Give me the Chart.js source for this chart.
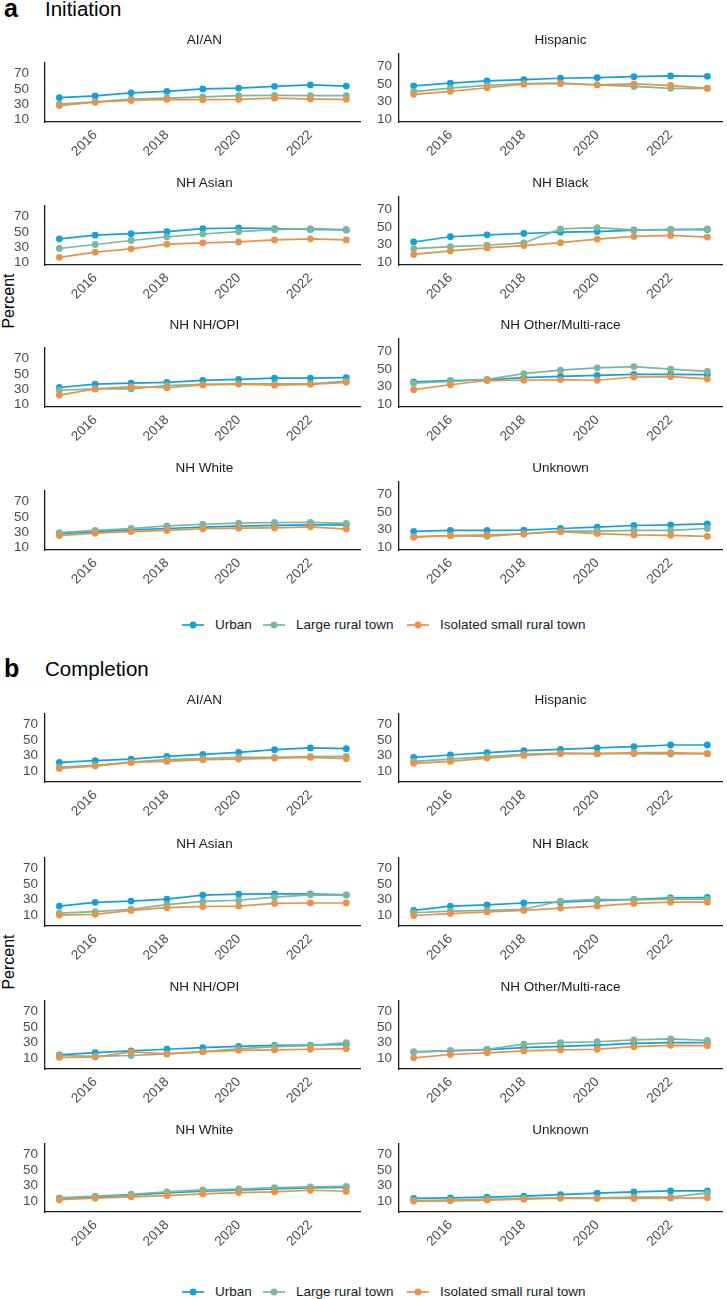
<!DOCTYPE html>
<html><head><meta charset="utf-8">
<script src="https://cdn.jsdelivr.net/npm/chart.js@4"></script>
<style>
html,body{margin:0;padding:0;background:#fff;}
body{width:727px;height:1299px;position:relative;overflow:hidden;font-family:"Liberation Sans",Arial,sans-serif;}
canvas{position:absolute;}
.ptitle{position:absolute;width:300px;margin-left:-150px;font-size:13.5px;color:#1a1a1a;text-align:center;line-height:16px;white-space:nowrap;}
.sec{position:absolute;white-space:nowrap;color:#000;}
.ylab{position:absolute;font-size:16px;color:#000;white-space:nowrap;transform:translate(-50%,-50%) rotate(-90deg);}
.leg{position:absolute;font-size:13.5px;color:#1a1a1a;white-space:nowrap;line-height:16px;}
.legicon{position:absolute;}
</style></head><body>
<script>
// ---------- data ----------
const years = [2015, 2016, 2017, 2018, 2019, 2020, 2021, 2022, 2023];
const xTicks = [2016, 2018, 2020, 2022];
const yTicks = [10, 30, 50, 70];
const groups = ["AI/AN", "Hispanic", "NH Asian", "NH Black", "NH NH/OPI", "NH Other/Multi-race", "NH White", "Unknown"];
const seriesNames = ["Urban", "Large rural town", "Isolated small rural town"];

// Initiation (%)
const init_AIAN_urban  = [38.7, 40.9, 45.0, 46.8, 50.1, 51.2, 53.4, 55.3, 53.8];
const init_AIAN_large  = [30.2, 33.2, 36.9, 38.0, 39.8, 41.3, 41.7, 41.3, 41.3];
const init_AIAN_small  = [28.4, 32.8, 35.0, 36.5, 36.1, 36.5, 38.0, 36.9, 36.5];
const init_Hisp_urban  = [47.9, 50.9, 53.4, 54.9, 56.4, 57.1, 58.2, 59.0, 58.6];
const init_Hisp_large  = [41.3, 45.3, 48.3, 50.5, 50.9, 49.0, 47.2, 45.0, 45.0];
const init_Hisp_small  = [38.3, 41.7, 45.7, 49.7, 50.5, 49.0, 50.1, 48.3, 45.0];
const init_Asian_urban = [41.1, 45.9, 47.8, 50.4, 54.4, 55.2, 54.4, 53.3, 52.6];
const init_Asian_large = [28.5, 33.7, 38.9, 43.7, 47.4, 50.4, 53.0, 54.4, 53.0];
const init_Asian_small = [17.0, 23.7, 28.1, 34.1, 35.9, 37.0, 39.6, 41.1, 39.6];
const init_Black_urban = [33.0, 38.9, 41.1, 42.6, 44.1, 44.8, 46.3, 47.0, 47.0];
const init_Black_large = [25.6, 27.8, 29.3, 31.9, 47.8, 49.3, 46.7, 47.0, 47.8];
const init_Black_small = [18.9, 23.0, 26.3, 28.9, 32.2, 36.3, 39.3, 40.4, 38.5];
const init_NHOPI_urban = [32.4, 36.9, 38.0, 39.1, 41.7, 43.1, 44.6, 44.6, 45.3];
const init_NHOPI_large = [28.8, 30.5, 30.5, 35.0, 36.5, 37.2, 37.2, 37.2, 40.6];
const init_NHOPI_small = [22.5, 30.6, 33.6, 32.1, 35.8, 36.9, 35.4, 36.5, 39.1];
const init_Other_urban = [35.4, 36.9, 37.6, 40.2, 41.7, 42.8, 43.9, 43.9, 43.5];
const init_Other_large = [33.9, 35.8, 38.3, 44.6, 48.6, 51.2, 52.7, 49.7, 47.2];
const init_Other_small = [26.6, 32.1, 36.9, 37.2, 38.0, 37.2, 40.9, 41.3, 38.7];
const init_White_urban = [28.4, 30.6, 33.2, 35.0, 36.9, 38.0, 39.1, 39.8, 39.8];
const init_White_large = [29.5, 32.5, 35.0, 38.3, 40.5, 42.0, 42.8, 43.1, 41.7];
const init_White_small = [25.8, 28.8, 31.0, 32.5, 34.7, 35.4, 35.8, 37.2, 34.3];
const init_Unk_urban   = [28.0, 29.1, 29.1, 29.5, 31.3, 32.8, 34.7, 35.4, 36.5];
const init_Unk_large   = [22.1, 23.2, 22.5, 25.5, 28.4, 28.4, 29.1, 29.1, 31.3];
const init_Unk_small   = [21.4, 23.2, 24.0, 25.1, 27.7, 25.5, 24.0, 23.6, 22.5];

// Completion (%)
const comp_AIAN_urban  = [21.1, 23.3, 25.4, 28.9, 31.4, 34.0, 37.4, 39.6, 38.7];
const comp_AIAN_large  = [15.1, 17.3, 21.6, 24.6, 25.9, 27.6, 27.6, 28.4, 28.9];
const comp_AIAN_small  = [13.4, 16.4, 21.1, 22.4, 24.6, 25.4, 26.7, 27.6, 25.9];
const comp_Hisp_urban  = [27.6, 30.6, 33.6, 36.1, 37.9, 39.6, 41.3, 43.4, 43.4];
const comp_Hisp_large  = [22.4, 25.4, 28.4, 31.4, 33.1, 32.3, 32.3, 31.9, 32.3];
const comp_Hisp_small  = [19.9, 22.4, 26.7, 30.1, 32.3, 32.3, 33.6, 33.6, 32.3];
const comp_Asian_urban = [21.6, 26.4, 28.0, 30.4, 35.6, 36.8, 37.2, 37.2, 36.0];
const comp_Asian_large = [12.5, 14.5, 17.5, 23.5, 27.5, 29.0, 33.0, 36.0, 35.5];
const comp_Asian_small = [10.0, 11.0, 16.0, 19.5, 21.0, 21.5, 25.0, 25.5, 25.5];
const comp_Black_urban = [16.0, 21.5, 23.0, 25.5, 26.5, 28.5, 30.0, 32.0, 32.5];
const comp_Black_large = [13.0, 15.0, 16.0, 17.5, 28.0, 30.0, 29.5, 30.5, 30.5];
const comp_Black_small = [9.5, 12.0, 14.0, 16.0, 19.0, 21.5, 25.0, 26.5, 26.5];
const comp_NHOPI_urban = [14.2, 17.1, 19.2, 21.3, 23.4, 25.1, 26.3, 26.7, 27.6];
const comp_NHOPI_large = [13.3, 12.1, 13.3, 15.4, 18.4, 21.7, 24.6, 25.9, 29.7];
const comp_NHOPI_small = [10.8, 11.3, 18.0, 15.4, 18.0, 20.0, 20.5, 21.3, 22.1];
const comp_Other_urban = [18.0, 19.2, 20.9, 23.4, 25.1, 26.7, 28.8, 29.7, 29.7];
const comp_Other_large = [18.0, 19.6, 21.3, 28.0, 29.7, 30.9, 33.4, 34.6, 32.6];
const comp_Other_small = [10.4, 14.6, 16.7, 19.2, 20.5, 21.3, 24.6, 26.3, 25.9];
const comp_White_urban = [13.4, 15.5, 17.6, 20.5, 22.6, 23.9, 25.5, 26.8, 27.6];
const comp_White_large = [14.2, 16.3, 18.8, 21.8, 24.3, 25.5, 27.2, 28.1, 28.9];
const comp_White_small = [11.7, 13.8, 15.5, 17.1, 19.2, 20.9, 21.8, 23.9, 22.6];
const comp_Unk_urban   = [13.4, 14.2, 15.0, 16.3, 18.4, 20.1, 21.8, 23.0, 23.0];
const comp_Unk_large   = [10.8, 11.3, 12.1, 13.4, 14.2, 14.2, 15.0, 15.0, 20.5];
const comp_Unk_small   = [10.0, 10.4, 11.3, 12.5, 13.8, 13.4, 13.4, 13.8, 14.2];

// ---------- assembly ----------
const initPanels = [
  [init_AIAN_urban, init_AIAN_large, init_AIAN_small],
  [init_Hisp_urban, init_Hisp_large, init_Hisp_small],
  [init_Asian_urban, init_Asian_large, init_Asian_small],
  [init_Black_urban, init_Black_large, init_Black_small],
  [init_NHOPI_urban, init_NHOPI_large, init_NHOPI_small],
  [init_Other_urban, init_Other_large, init_Other_small],
  [init_White_urban, init_White_large, init_White_small],
  [init_Unk_urban, init_Unk_large, init_Unk_small]
];
const compPanels = [
  [comp_AIAN_urban, comp_AIAN_large, comp_AIAN_small],
  [comp_Hisp_urban, comp_Hisp_large, comp_Hisp_small],
  [comp_Asian_urban, comp_Asian_large, comp_Asian_small],
  [comp_Black_urban, comp_Black_large, comp_Black_small],
  [comp_NHOPI_urban, comp_NHOPI_large, comp_NHOPI_small],
  [comp_Other_urban, comp_Other_large, comp_Other_small],
  [comp_White_urban, comp_White_large, comp_White_small],
  [comp_Unk_urban, comp_Unk_large, comp_Unk_small]
];

const colors = ['#14A1D9', '#7AB79E', '#E7934B'];
const FONT = '"Liberation Sans", Arial, sans-serif';
const PLOT_H = 69, PAD_TOP = 14, XAX_H = 55;

function addDiv(cls, html, css) {
  const d = document.createElement('div');
  d.className = cls; d.innerHTML = html;
  Object.assign(d.style, css);
  document.body.appendChild(d);
  return d;
}

function makePanel(series, title, col, plotTop, yMin, yMax, leftPad) {
  const left = col === 0 ? 0 : 364;
  const width = col === 0 ? 364 : 363;
  const yW = col === 0 ? 45 : 35;
  const padR = col === 0 ? 0 : 5;
  const cv = document.createElement('canvas');
  cv.width = width; cv.height = PAD_TOP + PLOT_H + XAX_H;
  cv.style.left = left + 'px'; cv.style.top = (plotTop - PAD_TOP) + 'px';
  document.body.appendChild(cv);
  const cx = col === 0 ? (45 + 364) / 2 : (399 + 722) / 2;
  addDiv('ptitle', title, {left: cx + 'px', top: (plotTop - 13 - 8) + 'px'});

  new Chart(cv, {
    type: 'line',
    data: {
      datasets: series.map((arr, i) => ({
        label: seriesNames[i],
        data: years.map((yr, j) => ({x: yr, y: arr[j]})),
        borderColor: colors[i], backgroundColor: colors[i],
        borderWidth: 1.7, pointRadius: 3.4, pointHoverRadius: 3.4,
        pointBorderWidth: 0, tension: 0, order: 2 - i, clip: false
      }))
    },
    options: {
      responsive: false, animation: false, events: [],
      layout: {padding: {top: PAD_TOP, right: padR, left: 0, bottom: 0}},
      plugins: {legend: {display: false}, tooltip: {enabled: false}, title: {display: false}},
      scales: {
        x: {
          type: 'linear', min: 2014.6, max: 2023.4,
          afterBuildTicks: s => { s.ticks = xTicks.map(v => ({value: v})); },
          afterFit: s => { s.height = XAX_H; },
          grid: {display: false, drawTicks: false},
          border: {display: true, color: '#1a1a1a', width: 1.3},
          ticks: {color: '#4d4d4d', font: {family: FONT, size: 13.5}, minRotation: 45, maxRotation: 45,
                  padding: 5, autoSkip: false, callback: v => String(v)}
        },
        y: {
          type: 'linear', min: yMin, max: yMax,
          afterBuildTicks: s => { s.ticks = yTicks.map(v => ({value: v})); },
          afterFit: s => { s.width = yW; },
          grid: {display: false, drawTicks: false},
          border: {display: true, color: '#1a1a1a', width: 1.3},
          ticks: {color: '#4d4d4d', font: {family: FONT, size: 13.5}, padding: col === 0 ? leftPad : 7,
                  callback: v => String(v)}
        }
      }
    }
  });
}

function legendIcon(color) {
  return '<svg width="22" height="10" viewBox="0 0 22 10"><line x1="0" y1="5" x2="22" y2="5" stroke="' + color +
    '" stroke-width="1.7"/><circle cx="11" cy="5" r="3.4" fill="' + color + '"/></svg>';
}
function makeLegend(cy) {
  const iconX = [182, 263, 407];
  const textX = [215, 296, 440];
  for (let i = 0; i < 3; i++) {
    addDiv('legicon', legendIcon(colors[i]), {left: iconX[i] + 'px', top: (cy - 5) + 'px', height: '10px', lineHeight: '0'});
    addDiv('leg', seriesNames[i], {left: textX[i] + 'px', top: (cy - 8) + 'px'});
  }
}

function makeSection(letter, name, baseline, plotTops, panels, yMin, yMax, legendY, ylabY, leftPad) {
  addDiv('sec', letter, {left: '4px', top: (baseline - 21) + 'px', fontSize: '25px', fontWeight: 'bold', lineHeight: '26px'});
  addDiv('sec', name, {left: '45px', top: (baseline - 18) + 'px', fontSize: '20.5px', lineHeight: '22px'});
  addDiv('ylab', 'Percent', {left: '9px', top: ylabY + 'px'});
  for (let p = 0; p < 8; p++) {
    const row = Math.floor(p / 2), col = p % 2;
    makePanel(panels[p], groups[p], col, plotTops[row], yMin, yMax, leftPad);
  }
  makeLegend(legendY);
}

makeSection('a', 'Initiation', 16, [53, 196, 338, 481], initPanels, 7, 83.7, 625, 301, 16);
makeSection('b', 'Completion', 676, [713, 857, 1000, 1143], compPanels, -3.95, 82.95, 1292, 962, 7);
</script>
</body></html>
